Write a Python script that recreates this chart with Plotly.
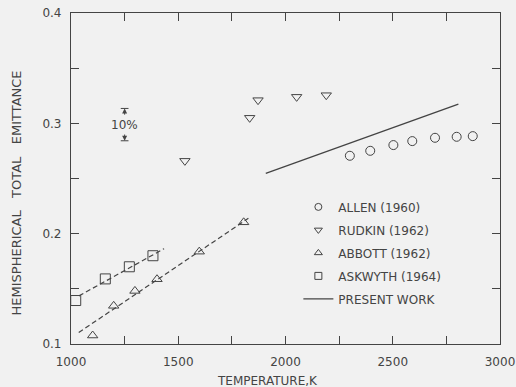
import plotly.graph_objects as go

# ---- data ----
allen_T = [2300, 2395, 2503, 2591, 2697, 2798, 2873]
allen_e = [0.2706, 0.2751, 0.2803, 0.2839, 0.2869, 0.2878, 0.2884]

rudkin_T = [1531, 1833, 1872, 2052, 2190]
rudkin_e = [0.266, 0.305, 0.321, 0.324, 0.3255]

abbott_T = [1101, 1199, 1298, 1401, 1598, 1805]
abbott_e = [0.1077, 0.1346, 0.1481, 0.1587, 0.1837, 0.2103]

askwyth_T = [1022, 1160, 1272, 1382]
askwyth_e = [0.1394, 0.159, 0.170, 0.180]

present_T = [1908, 2806]
present_e = [0.2547, 0.3174]

abbott_fit_T = [1036, 1827]
abbott_fit_e = [0.1104, 0.2139]

askwyth_fit_T = [1037, 1434]
askwyth_fit_e = [0.1436, 0.1864]

err_T = 1250
err_lo = 0.2842
err_hi = 0.3135
err_half_w = 18
err_label = "10%"

x_ticks = [1000, 1500, 2000, 2500, 3000]
y_ticks = [0.1, 0.2, 0.3, 0.4]

series = [
    ("ALLEN (1960)", allen_T, allen_e, "circle-open", 9),
    ("RUDKIN (1962)", rudkin_T, rudkin_e, "triangle-down-open", 9),
    ("ABBOTT (1962)", abbott_T, abbott_e, "triangle-up-open", 9),
    ("ASKWYTH (1964)", askwyth_T, askwyth_e, "square-open", 10),
]

INK = "#444444"
BG = "#f1f1f1"
FONT = "DejaVu Sans"

fig = go.Figure()

for fx, fy in ((abbott_fit_T, abbott_fit_e), (askwyth_fit_T, askwyth_fit_e)):
    fig.add_trace(go.Scatter(x=fx, y=fy, mode="lines", hoverinfo="skip",
                             line=dict(color=INK, width=1.2, dash="5px,3px"), showlegend=False))

for i, (name, tx, ey, sym, sz) in enumerate(series):
    fig.add_trace(go.Scatter(x=tx, y=ey, mode="markers", name=name, showlegend=False,
                             marker=dict(symbol=sym, size=sz, color=INK, line=dict(width=1))))
    fig.add_trace(go.Scatter(x=[None], y=[None], mode="markers", name=name,
                             legendgroup=f"g{i}",
                             marker=dict(symbol=sym, size=7, color=INK, line=dict(width=1))))

fig.add_trace(go.Scatter(x=present_T, y=present_e, mode="lines", name="PRESENT WORK",
                         legendgroup="g9", line=dict(color=INK, width=1.3)))

# 10% indicator
for yv in (err_lo, err_hi):
    fig.add_shape(type="line", xref="x", yref="y",
                  x0=err_T - err_half_w, x1=err_T + err_half_w, y0=yv, y1=yv,
                  line=dict(color=INK, width=1))
mid = (err_lo + err_hi) / 2
fig.add_annotation(x=err_T, y=err_hi, ax=err_T, ay=err_hi - 0.007, xref="x", yref="y",
                   axref="x", ayref="y", text="", showarrow=True, arrowhead=2,
                   arrowsize=1, arrowwidth=1, arrowcolor=INK)
fig.add_annotation(x=err_T, y=err_lo, ax=err_T, ay=err_lo + 0.007, xref="x", yref="y",
                   axref="x", ayref="y", text="", showarrow=True, arrowhead=2,
                   arrowsize=1, arrowwidth=1, arrowcolor=INK)
fig.add_annotation(x=err_T, y=mid, text=err_label, showarrow=False,
                   font=dict(family=FONT, size=12, color=INK))

# axis titles
fig.add_annotation(text="TEMPERATURE,K", xref="paper", yref="paper", x=0.459, y=-0.112,
                   xanchor="center", yanchor="middle", showarrow=False,
                   font=dict(family=FONT, size=12, color=INK))
fig.add_annotation(text="HEMISPHERICAL   TOTAL   EMITTANCE", xref="paper", yref="paper",
                   x=-0.128, y=0.455, xanchor="center", yanchor="middle", textangle=-90,
                   showarrow=False, font=dict(family=FONT, size=13, color=INK))

axis_common = dict(showgrid=False, zeroline=False, showline=True, linecolor=INK,
                   linewidth=1.2, mirror="ticks", ticks="inside", ticklen=8,
                   tickcolor=INK, tickwidth=1, automargin=False,
                   tickfont=dict(family=FONT, size=12, color=INK))

fig.update_layout(
    width=516, height=387,
    margin=dict(l=71, r=16, t=13, b=43),
    paper_bgcolor=BG, plot_bgcolor=BG,
    font=dict(family=FONT, size=12, color=INK),
    xaxis=dict(range=[1000, 3000], tickvals=x_ticks, ticklabelstandoff=6,
               minor=dict(dtick=250, ticks="inside", ticklen=8, tickcolor=INK, tickwidth=1),
               **axis_common),
    yaxis=dict(range=[0.1, 0.4], tickvals=y_ticks, tickformat=".1f", ticklabelstandoff=6,
               minor=dict(dtick=0.05, ticks="inside", ticklen=8, tickcolor=INK, tickwidth=1),
               **axis_common),
    legend=dict(x=0.53, y=0.458, xanchor="left", yanchor="top", bgcolor="rgba(0,0,0,0)",
                font=dict(family=FONT, size=12, color=INK), tracegroupgap=4,
                traceorder="grouped", itemwidth=30),
    showlegend=True,
)

fig.write_html("out.html")
